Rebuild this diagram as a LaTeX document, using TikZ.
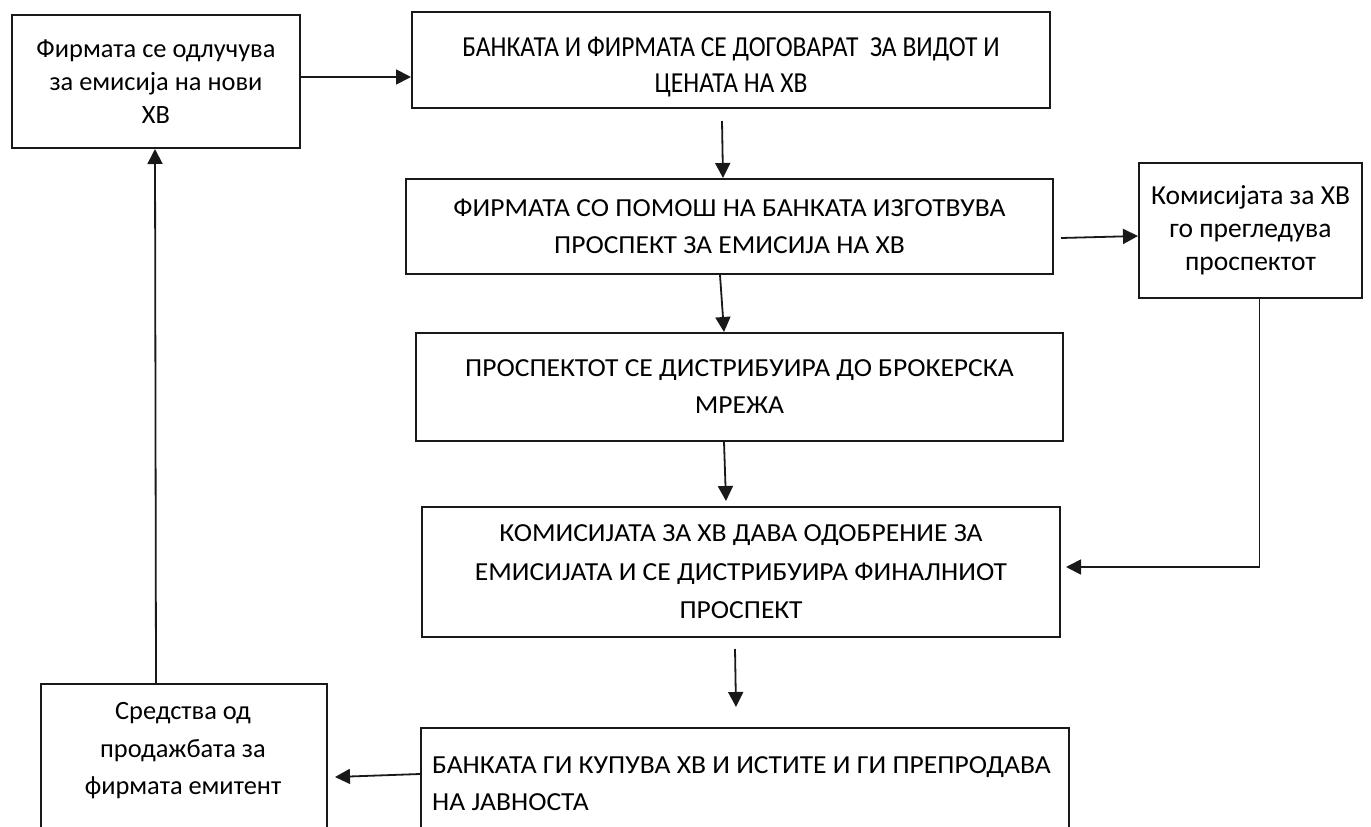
\documentclass[tikz,border=0pt]{standalone}
\usepackage{fontspec}
\setmainfont{Carlito}
\newfontfamily\narrowfont{Carlito}[FakeStretch=0.88]
\newfontfamily\widefont{Carlito}[FakeStretch=1.06]
\usetikzlibrary{arrows.meta}
\begin{document}
\begin{tikzpicture}[x=1pt,y=-1pt,
  box/.style={draw=black!90,line width=2pt,rectangle,inner sep=0pt,align=center},
  bodytext/.style={font=\fontsize{26.4}{33}\selectfont},
  captext/.style={font=\widefont\fontsize{26}{37}\selectfont},
  narrowtext/.style={font=\narrowfont\fontsize{29}{35.5}\selectfont},
  plaintext/.style={inner sep=0pt,align=center},
  arr/.style={line width=1.8pt,draw=black!90,-{Triangle[length=15pt,width=15pt]}}]
\useasboundingbox (0,0) rectangle (1371,827);
\clip (0,0) rectangle (1371,827);
\fill[white] (0,0) rectangle (1371,827);

\node[box,bodytext,minimum width=288,minimum height=133] (A) at (156,81.5)
  {Фирмата се одлучува\\за емисија на нови\\ХВ};
\node[box,minimum width=638,minimum height=96] (B) at (731,60) {};
\node[plaintext,narrowtext] (Bt) at (731,67)
  {БАНКАТА И ФИРМАТА СЕ ДОГОВАРАТ\ \ ЗА ВИДОТ И\\ЦЕНАТА НА ХВ};
\node[box,captext,minimum width=647,minimum height=95] (C) at (729.5,226.5)
  {ФИРМАТА СО ПОМОШ НА БАНКАТА ИЗГОТВУВА\\ПРОСПЕКТ ЗА ЕМИСИЈА НА ХВ};
\node[box,font=\fontsize{27.5}{33}\selectfont,minimum width=223,minimum height=135] (D) at (1250.5,230.5)
  {Комисијата за ХВ\\го прегледува\\проспектот};
\node[box,captext,minimum width=647,minimum height=108] (E) at (739.5,387)
  {ПРОСПЕКТОТ СЕ ДИСТРИБУИРА ДО БРОКЕРСКА\\МРЕЖА};
\node[box,font=\widefont\fontsize{26}{38.5}\selectfont,minimum width=638,minimum height=130] (F) at (741,572)
  {КОМИСИЈАТА ЗА ХВ ДАВА ОДОБРЕНИЕ ЗА\\ЕМИСИЈАТА И СЕ ДИСТРИБУИРА ФИНАЛНИОТ\\ПРОСПЕКТ};
\node[box,minimum width=286,minimum height=200,anchor=north west] (G) at (40,683) {};
\node[plaintext,font=\fontsize{26.4}{37.5}\selectfont] (Gt) at (183,751)
  {Средства од\\продажбата за\\фирмата емитент};
\node[box,minimum width=648,minimum height=200,anchor=north west] (H) at (420,727) {};
\node[plaintext,captext,align=left,anchor=west] (Ht) at (432,784)
  {БАНКАТА ГИ КУПУВА ХВ И ИСТИТЕ И ГИ ПРЕПРОДАВА\\НА ЈАВНОСТА};

\draw[arr] ([yshift=4.5pt]A.east) -- ([yshift=4.5pt]A.east -| B.west);
\draw[arr] ([xshift=-9pt,yshift=-12pt]B.south) -- ([xshift=-6.5pt]C.north);
\draw[arr] ([xshift=-9.5pt]C.south) -- ([xshift=-15.5pt]E.north);
\draw[arr] ([xshift=-15.5pt]E.south) -- ([xshift=-15pt,yshift=5pt]F.north);
\draw[arr] ([xshift=-6pt,yshift=-11pt]F.south) -- ([xshift=-9pt,yshift=20pt]H.north);
\draw[arr] ([xshift=7pt,yshift=-11.5pt]C.east) -- ([yshift=-5.5pt]D.west);
\draw[arr] ([xshift=9pt]D.south) |- ([xshift=5pt,yshift=5pt]F.east);
\draw[arr] ([yshift=-47pt]H.north west) -- ([xshift=7pt,yshift=-94pt]G.north east);
\draw[arr] ([xshift=-28pt]G.north) -- ([xshift=-1pt]A.south);
\end{tikzpicture}
\end{document}
